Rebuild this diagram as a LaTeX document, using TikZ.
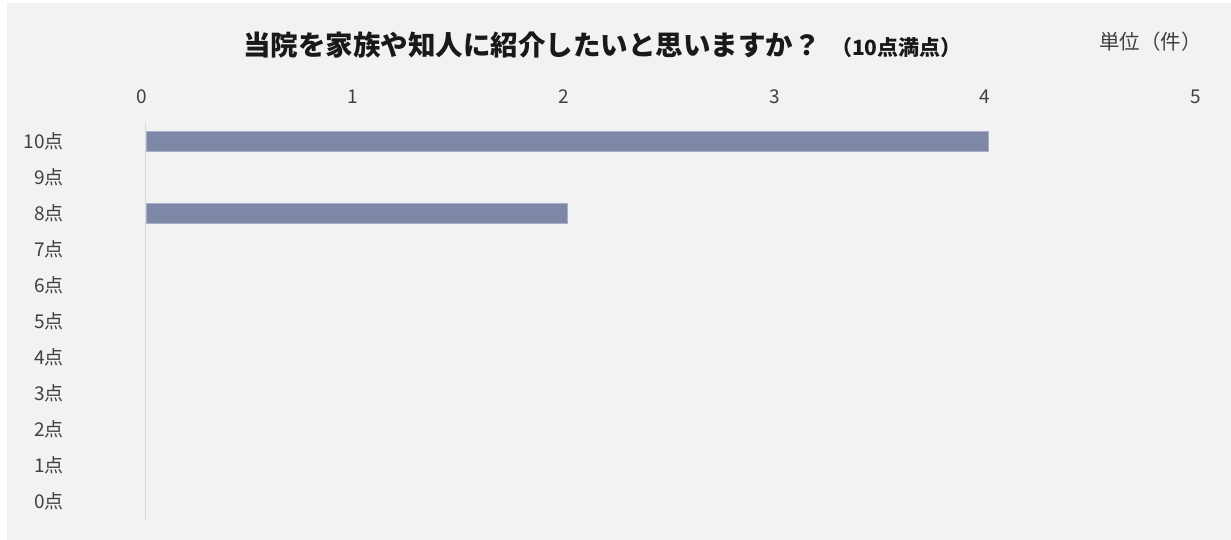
\documentclass[tikz,border=0pt]{standalone}
\usepackage{fontspec}
\setmainfont{Noto Sans CJK JP}
\definecolor{bgray}{RGB}{242,242,242}
\definecolor{barfill}{RGB}{127,135,166}
\definecolor{baredge}{RGB}{170,175,200}
\definecolor{axgray}{RGB}{217,217,217}
\begin{document}
\begin{tikzpicture}[x=1pt,y=-1pt,
  lbl/.style={font=\fontsize{19}{19}\selectfont, text=black!75, inner sep=0pt},
  ttl/.style={font=\fontsize{27.5}{27.5}\selectfont\bfseries, text=black!90, inner sep=0pt},
  sub/.style={font=\fontsize{21}{21}\selectfont\bfseries, text=black!90, inner sep=0pt},
  unit/.style={font=\fontsize{20.5}{20.5}\selectfont, text=black!75, inner sep=0pt},
  bar/.style={fill=barfill, draw=baredge, line width=0.8pt},
  axisline/.style={draw=axgray, line width=1.2pt}]
\useasboundingbox (0,0) rectangle (1231,540);
\fill[white] (0,0) rectangle (1231,540);
\fill[bgray] (7,3) rectangle (1231,540);
% title
\node[ttl, anchor=base west] (title) at (243,56) {当院を家族や知人に紹介したいと思いますか？};
\node[sub, anchor=base west] (subt) at ([xshift=10pt]title.base east) {（10点満点）};
\node[unit, anchor=base west] (unit) at (1099,50) {単位（件）};
% tick labels
\foreach \i in {0,...,5} {
  \node[lbl] (t\i) at ({142+210.8*\i},97) {\i};
}
% axis
\coordinate (ax1) at (145.5,123);
\coordinate (ax2) at (145.5,520);
\draw[axisline] (ax1) -- (ax2);
% category labels
\foreach \k in {0,...,10} {
  \node[lbl, anchor=east] (c\k) at (64,{141+36*(10-\k)}) {\k 点};
}
% bars
\draw[bar] (146,131) rectangle (988,151) node[midway] (b10) {};
\draw[bar] (146,203) rectangle (567,223) node[midway] (b8) {};
\end{tikzpicture}
\end{document}
